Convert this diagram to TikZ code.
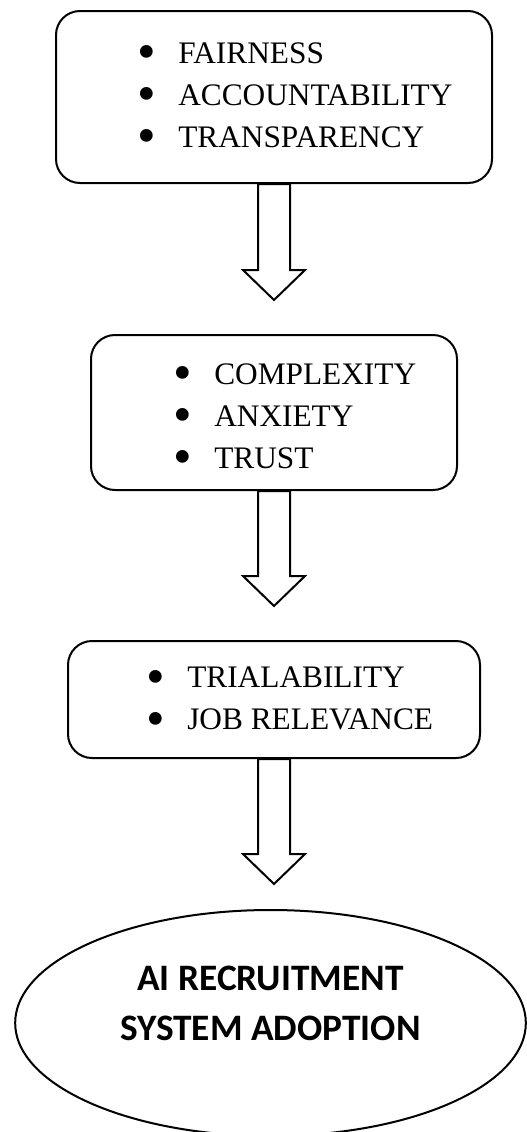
\documentclass[tikz,border=0pt]{standalone}
\usepackage{fontspec}
\usepackage{graphicx}
\setmainfont{Liberation Serif}
\newfontfamily\goalfont{Carlito}
\usetikzlibrary{shapes.geometric}
\tikzset{
  box/.style={draw=black,line width=1.5pt,rounded corners=18pt,fill=white,inner sep=0pt},
  items/.style={anchor=north west,align=left,inner sep=0pt,
    font=\fontsize{23.5}{31.5}\selectfont},
  blockarrow/.style={draw=black,line width=1.5pt,fill=white,line join=miter},
  goal/.style={draw=black,line width=1.5pt,ellipse,inner sep=0pt,
    minimum width=383pt,minimum height=169.5pt},
  goaltext/.style={align=center,inner sep=0pt,
    font=\goalfont\bfseries\fontsize{28}{37.5}\selectfont}
}
\newcommand{\bul}[1]{\makebox[30.75pt][l]{\smash{\raisebox{-0.22em}{\scalebox{1.7}{\textbullet}}}}#1}

\begin{document}
\begin{tikzpicture}[x=0.75pt,y=-0.75pt]
\useasboundingbox (0,0) rectangle (526,1132);

% three boxes of factors
\node[box,minimum width=327pt,minimum height=129pt] (b1) at (274,97) {};
\node[box,minimum width=274.5pt,minimum height=116.25pt] (b2) at (274,412.5) {};
\node[box,minimum width=309pt,minimum height=87.75pt] (b3) at (274,699.5) {};

\node[items] (l1) at (137,42) {\bul{FAIRNESS}\\\bul{ACCOUNTABILITY}\\\bul{TRANSPARENCY}};
\node[items] (l2) at (173,363) {\bul{COMPLEXITY}\\\bul{ANXIETY}\\\bul{TRUST}};
\node[items] (l3) at (146,667) {\bul{TRIALABILITY}\\\bul{JOB RELEVANCE}};

% outcome
\node[goal] (goal) at (270.5,1023) {};
\node[goaltext] (goaltxt) at ([yshift=15pt]goal.center) {AI RECRUITMENT\\SYSTEM ADOPTION};

% hollow block arrows under each box
\foreach \from/\len in {b1/86,b2/85,b3/95}
  \draw[blockarrow] (\from.south) ++(-16,0) -- ++(0,\len) -- ++(-15,0)
    -- ++(31,30) -- ++(31,-30) -- ++(-15,0) -- ++(0,-\len) -- cycle;
\end{tikzpicture}
\end{document}
